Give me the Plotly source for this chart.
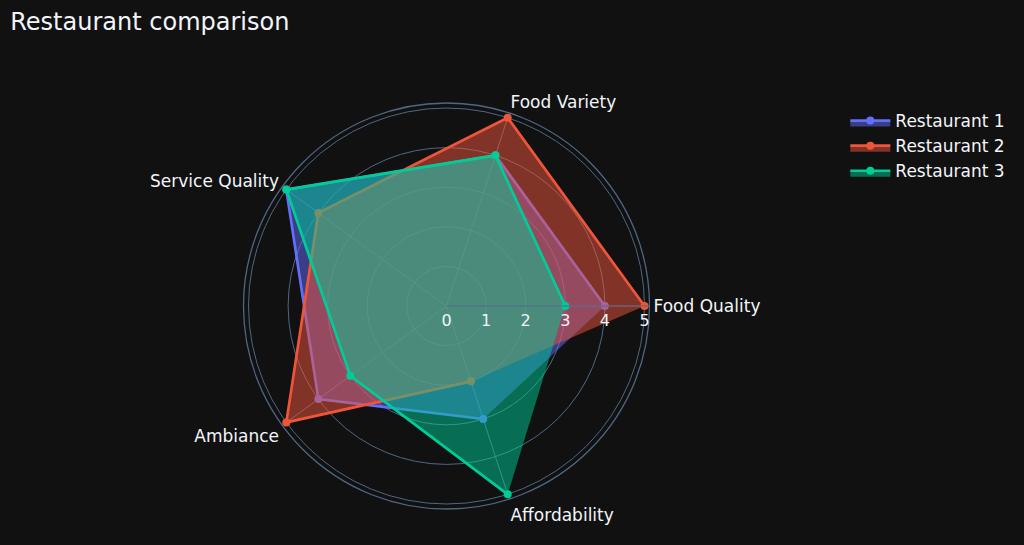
import plotly.graph_objects as go

categories = ["Food Quality", "Food Variety", "Service Quality", "Ambiance", "Affordability"]
restaurant_1 = [4, 4, 5, 4, 3]
restaurant_2 = [5, 5, 4, 5, 2]
restaurant_3 = [3, 4, 5, 3, 5]

fig = go.Figure()
for name, vals in [("Restaurant 1", restaurant_1),
                   ("Restaurant 2", restaurant_2),
                   ("Restaurant 3", restaurant_3)]:
    fig.add_trace(go.Scatterpolar(r=vals, theta=categories, fill="toself", name=name,
                                  line=dict(width=2.7), marker=dict(size=8)))

fig.update_layout(
    template="plotly_dark",
    font=dict(family="Verdana, DejaVu Sans, sans-serif", size=16),
    title=dict(text="Restaurant comparison", font=dict(size=24),
               x=0.01, xanchor="left", y=0.96, yanchor="middle"),
    polar=dict(radialaxis=dict(visible=True, tickfont=dict(size=16), gridwidth=1.3),
               angularaxis=dict(tickfont=dict(size=17), linewidth=1.3, gridwidth=1.3)),
    legend=dict(font=dict(size=17), itemwidth=40, x=1.02, y=1.0),
    showlegend=True,
    width=1024, height=545,
    margin=dict(l=63, r=194, t=103, b=36, autoexpand=False),
)

# drop the page's default body margin so the figure sits flush
fig.write_html("out.html", config={"displayModeBar": False},
               post_script="document.body.style.margin='0';")
